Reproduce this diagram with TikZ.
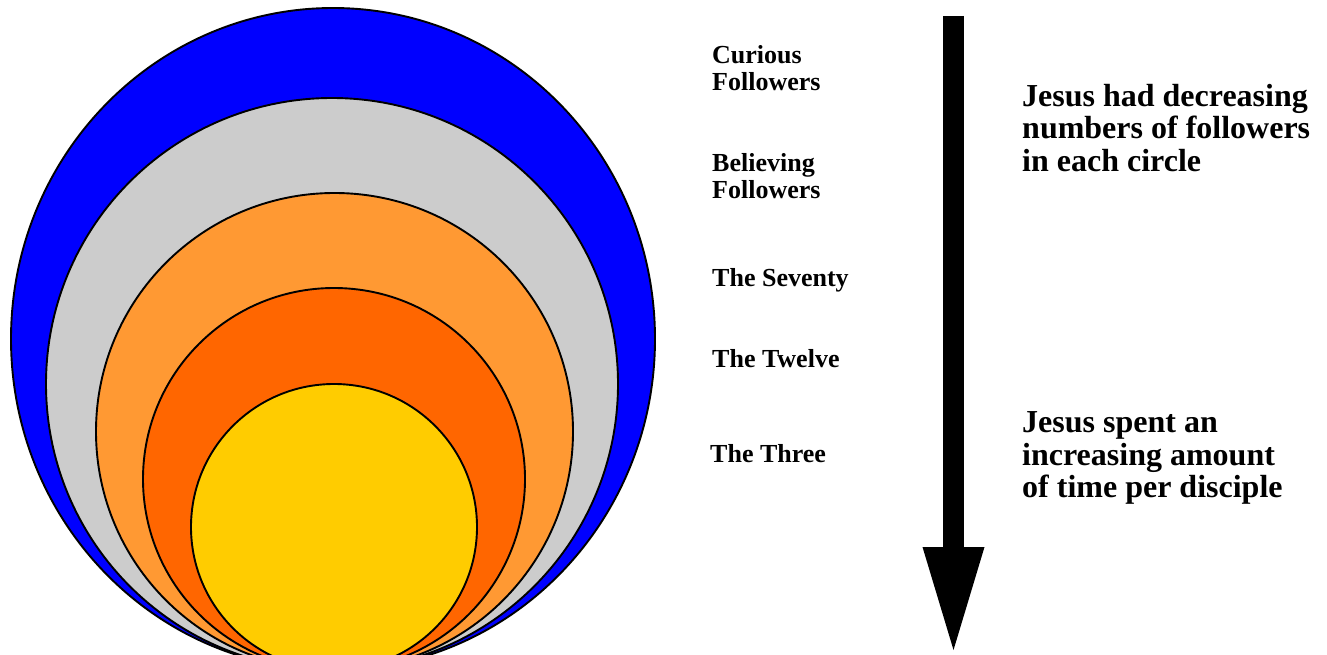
\documentclass[tikz,border=0pt]{standalone}
\usepackage{fontspec}
\setmainfont{Liberation Serif}
\usetikzlibrary{shapes.geometric,arrows.meta}
\definecolor{outerblue}{RGB}{0,0,255}
\definecolor{believegray}{RGB}{204,204,204}
\definecolor{seventyorange}{RGB}{255,153,51}
\definecolor{twelveorange}{RGB}{255,102,0}
\definecolor{threeyellow}{RGB}{255,204,0}
\begin{document}
\begin{tikzpicture}[x=1pt, y=-1pt,
    ring/.style={draw, circle, line width=1.9pt, inner sep=0pt},
    lbl/.style={anchor=west, inner sep=0pt, align=left, font=\bfseries\fontsize{26}{26.5}\selectfont},
    note/.style={anchor=west, inner sep=0pt, align=left, font=\bfseries\fontsize{32}{32.5}\selectfont}]
  \useasboundingbox (0,0) rectangle (1327,655);
  \begin{scope}
    \clip (0,0) rectangle (1327,655);
    \node[draw, ellipse, line width=1.9pt, inner sep=0pt, fill=outerblue,
          minimum width=644pt, minimum height=662pt] at (333,339) (curious) {};
    \node[ring, fill=believegray,   minimum size=572pt] at (332,384)   (believing) {};
    \node[ring, fill=seventyorange, minimum size=477pt] at (334.5,431.5) (seventy) {};
    \node[ring, fill=twelveorange,  minimum size=382pt] at (334,479)   (twelve) {};
    \node[ring, fill=threeyellow,   minimum size=286pt] at (334,527)   (three) {};
  \end{scope}

  \node[lbl] at (712,68)  (curiouslbl) {Curious\\Followers};
  \node[lbl] at (712,176) (believinglbl) {Believing\\Followers};
  \node[lbl] at (712,280) (seventylbl) {The Seventy};
  \node[lbl] at (712,359) (twelvelbl) {The Twelve};
  \node[lbl] at (710,454) (threelbl) {The Three};

  \coordinate (arrowtop) at (953.5,16);
  \coordinate (arrowtip) at (953.5,650);
  \draw[line width=21pt, -{Triangle[length=103pt, width=62pt, line width=0pt]}] (arrowtop) -- (arrowtip);

  \node[note] at (1022,128) (fewer) {Jesus had decreasing\\numbers of followers\\in each circle};
  \node[note] at (1022,458) (longer) {Jesus spent an\\increasing amount\\of time per disciple};
\end{tikzpicture}
\end{document}
